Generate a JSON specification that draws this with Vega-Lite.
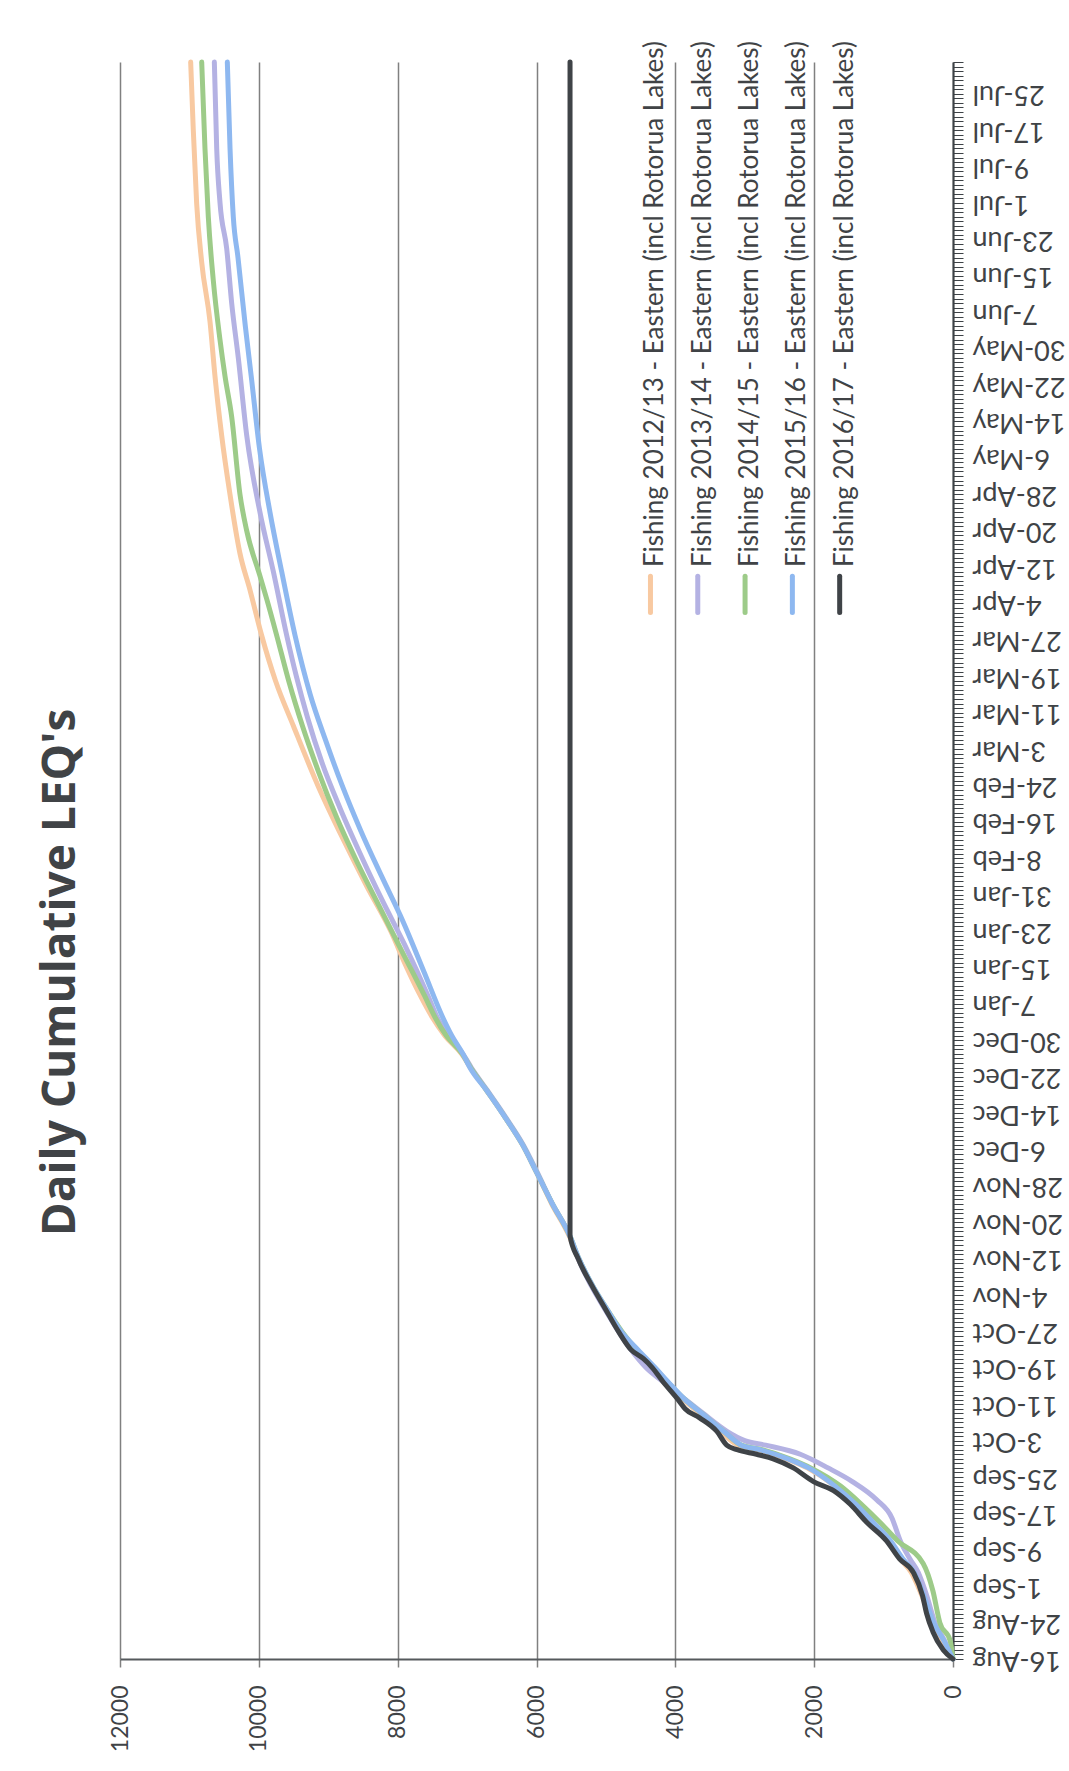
{
  "$schema": "https://vega.github.io/schema/vega-lite/v6.json",
  "width": 833,
  "height": 1597,
  "autosize": {"type": "none"},
  "padding": {"left": 120, "top": 62, "right": 116, "bottom": 112},
  "background": "white",
  "config": {"view": {"stroke": null}, "font": "Lato"},
  "title": {
    "text": "Daily Cumulative LEQ's",
    "orient": "left",
    "anchor": "middle",
    "font": "Open Sans",
    "fontSize": 46,
    "fontWeight": "bold",
    "color": "#404346",
    "offset": 24,
    "dx": -112
  },
  "resolve": {"scale": {"x": "independent"}},
  "layer": [
    {
      "data": {
        "values": [
          {"s": "2012/13", "d": "2015-08-16", "v": 0},
          {"s": "2012/13", "d": "2015-08-20", "v": 150},
          {"s": "2012/13", "d": "2015-08-24", "v": 300},
          {"s": "2012/13", "d": "2015-08-30", "v": 450},
          {"s": "2012/13", "d": "2015-09-04", "v": 600},
          {"s": "2012/13", "d": "2015-09-07", "v": 760},
          {"s": "2012/13", "d": "2015-09-11", "v": 930},
          {"s": "2012/13", "d": "2015-09-15", "v": 1150},
          {"s": "2012/13", "d": "2015-09-19", "v": 1400},
          {"s": "2012/13", "d": "2015-09-23", "v": 1700},
          {"s": "2012/13", "d": "2015-09-27", "v": 2100},
          {"s": "2012/13", "d": "2015-09-29", "v": 2400},
          {"s": "2012/13", "d": "2015-10-01", "v": 2800},
          {"s": "2012/13", "d": "2015-10-02", "v": 3100},
          {"s": "2012/13", "d": "2015-10-05", "v": 3350},
          {"s": "2012/13", "d": "2015-10-09", "v": 3650},
          {"s": "2012/13", "d": "2015-10-12", "v": 3880},
          {"s": "2012/13", "d": "2015-10-16", "v": 4120},
          {"s": "2012/13", "d": "2015-10-19", "v": 4300},
          {"s": "2012/13", "d": "2015-10-23", "v": 4580},
          {"s": "2012/13", "d": "2015-10-27", "v": 4780},
          {"s": "2012/13", "d": "2015-11-01", "v": 5000},
          {"s": "2012/13", "d": "2015-11-06", "v": 5200},
          {"s": "2012/13", "d": "2015-11-12", "v": 5400},
          {"s": "2012/13", "d": "2015-11-17", "v": 5530},
          {"s": "2012/13", "d": "2015-11-24", "v": 5780},
          {"s": "2012/13", "d": "2015-12-01", "v": 6000},
          {"s": "2012/13", "d": "2015-12-07", "v": 6200},
          {"s": "2012/13", "d": "2015-12-13", "v": 6450},
          {"s": "2012/13", "d": "2015-12-19", "v": 6720},
          {"s": "2012/13", "d": "2015-12-24", "v": 6950},
          {"s": "2012/13", "d": "2015-12-27", "v": 7080},
          {"s": "2012/13", "d": "2015-12-31", "v": 7320},
          {"s": "2012/13", "d": "2016-01-04", "v": 7500},
          {"s": "2012/13", "d": "2016-01-09", "v": 7680},
          {"s": "2012/13", "d": "2016-01-15", "v": 7870},
          {"s": "2012/13", "d": "2016-01-23", "v": 8100},
          {"s": "2012/13", "d": "2016-02-02", "v": 8450},
          {"s": "2012/13", "d": "2016-02-12", "v": 8780},
          {"s": "2012/13", "d": "2016-02-24", "v": 9150},
          {"s": "2012/13", "d": "2016-03-08", "v": 9500},
          {"s": "2012/13", "d": "2016-03-18", "v": 9760},
          {"s": "2012/13", "d": "2016-03-28", "v": 9960},
          {"s": "2012/13", "d": "2016-04-07", "v": 10128},
          {"s": "2012/13", "d": "2016-04-15", "v": 10272},
          {"s": "2012/13", "d": "2016-04-28", "v": 10416},
          {"s": "2012/13", "d": "2016-05-11", "v": 10536},
          {"s": "2012/13", "d": "2016-05-24", "v": 10632},
          {"s": "2012/13", "d": "2016-06-05", "v": 10704},
          {"s": "2012/13", "d": "2016-06-18", "v": 10823},
          {"s": "2012/13", "d": "2016-07-01", "v": 10896},
          {"s": "2012/13", "d": "2016-07-17", "v": 10944},
          {"s": "2012/13", "d": "2016-08-01", "v": 10982},

          {"s": "2013/14", "d": "2015-08-16", "v": 0},
          {"s": "2013/14", "d": "2015-08-20", "v": 120},
          {"s": "2013/14", "d": "2015-08-24", "v": 260},
          {"s": "2013/14", "d": "2015-08-30", "v": 380},
          {"s": "2013/14", "d": "2015-09-04", "v": 500},
          {"s": "2013/14", "d": "2015-09-07", "v": 620},
          {"s": "2013/14", "d": "2015-09-11", "v": 760},
          {"s": "2013/14", "d": "2015-09-16", "v": 880},
          {"s": "2013/14", "d": "2015-09-20", "v": 1100},
          {"s": "2013/14", "d": "2015-09-24", "v": 1450},
          {"s": "2013/14", "d": "2015-09-27", "v": 1800},
          {"s": "2013/14", "d": "2015-09-30", "v": 2200},
          {"s": "2013/14", "d": "2015-10-02", "v": 2700},
          {"s": "2013/14", "d": "2015-10-03", "v": 3000},
          {"s": "2013/14", "d": "2015-10-05", "v": 3250},
          {"s": "2013/14", "d": "2015-10-09", "v": 3600},
          {"s": "2013/14", "d": "2015-10-12", "v": 3850},
          {"s": "2013/14", "d": "2015-10-16", "v": 4180},
          {"s": "2013/14", "d": "2015-10-19", "v": 4420},
          {"s": "2013/14", "d": "2015-10-23", "v": 4640},
          {"s": "2013/14", "d": "2015-10-27", "v": 4820},
          {"s": "2013/14", "d": "2015-11-01", "v": 5020},
          {"s": "2013/14", "d": "2015-11-06", "v": 5210},
          {"s": "2013/14", "d": "2015-11-12", "v": 5400},
          {"s": "2013/14", "d": "2015-11-17", "v": 5520},
          {"s": "2013/14", "d": "2015-11-24", "v": 5770},
          {"s": "2013/14", "d": "2015-12-01", "v": 5990},
          {"s": "2013/14", "d": "2015-12-07", "v": 6190},
          {"s": "2013/14", "d": "2015-12-13", "v": 6440},
          {"s": "2013/14", "d": "2015-12-19", "v": 6710},
          {"s": "2013/14", "d": "2015-12-24", "v": 6940},
          {"s": "2013/14", "d": "2015-12-27", "v": 7060},
          {"s": "2013/14", "d": "2015-12-31", "v": 7270},
          {"s": "2013/14", "d": "2016-01-04", "v": 7430},
          {"s": "2013/14", "d": "2016-01-09", "v": 7570},
          {"s": "2013/14", "d": "2016-01-20", "v": 7900},
          {"s": "2013/14", "d": "2016-01-30", "v": 8230},
          {"s": "2013/14", "d": "2016-02-09", "v": 8540},
          {"s": "2013/14", "d": "2016-02-19", "v": 8830},
          {"s": "2013/14", "d": "2016-02-29", "v": 9090},
          {"s": "2013/14", "d": "2016-03-10", "v": 9300},
          {"s": "2013/14", "d": "2016-03-19", "v": 9460},
          {"s": "2013/14", "d": "2016-03-28", "v": 9599},
          {"s": "2013/14", "d": "2016-04-11", "v": 9791},
          {"s": "2013/14", "d": "2016-04-24", "v": 9983},
          {"s": "2013/14", "d": "2016-05-11", "v": 10175},
          {"s": "2013/14", "d": "2016-05-28", "v": 10296},
          {"s": "2013/14", "d": "2016-06-09", "v": 10391},
          {"s": "2013/14", "d": "2016-06-21", "v": 10463},
          {"s": "2013/14", "d": "2016-07-01", "v": 10559},
          {"s": "2013/14", "d": "2016-07-13", "v": 10607},
          {"s": "2013/14", "d": "2016-08-01", "v": 10641},

          {"s": "2014/15", "d": "2015-08-16", "v": 0},
          {"s": "2014/15", "d": "2015-08-20", "v": 40},
          {"s": "2014/15", "d": "2015-08-24", "v": 190},
          {"s": "2014/15", "d": "2015-08-31", "v": 290},
          {"s": "2014/15", "d": "2015-09-06", "v": 430},
          {"s": "2014/15", "d": "2015-09-11", "v": 800},
          {"s": "2014/15", "d": "2015-09-15", "v": 1050},
          {"s": "2014/15", "d": "2015-09-19", "v": 1320},
          {"s": "2014/15", "d": "2015-09-23", "v": 1620},
          {"s": "2014/15", "d": "2015-09-27", "v": 2050},
          {"s": "2014/15", "d": "2015-09-29", "v": 2350},
          {"s": "2014/15", "d": "2015-10-01", "v": 2750},
          {"s": "2014/15", "d": "2015-10-02", "v": 3050},
          {"s": "2014/15", "d": "2015-10-05", "v": 3300},
          {"s": "2014/15", "d": "2015-10-09", "v": 3620},
          {"s": "2014/15", "d": "2015-10-12", "v": 3860},
          {"s": "2014/15", "d": "2015-10-16", "v": 4120},
          {"s": "2014/15", "d": "2015-10-19", "v": 4300},
          {"s": "2014/15", "d": "2015-10-23", "v": 4560},
          {"s": "2014/15", "d": "2015-10-27", "v": 4770},
          {"s": "2014/15", "d": "2015-11-01", "v": 4990},
          {"s": "2014/15", "d": "2015-11-06", "v": 5190},
          {"s": "2014/15", "d": "2015-11-12", "v": 5390},
          {"s": "2014/15", "d": "2015-11-17", "v": 5520},
          {"s": "2014/15", "d": "2015-11-24", "v": 5770},
          {"s": "2014/15", "d": "2015-12-01", "v": 6000},
          {"s": "2014/15", "d": "2015-12-07", "v": 6200},
          {"s": "2014/15", "d": "2015-12-13", "v": 6450},
          {"s": "2014/15", "d": "2015-12-19", "v": 6720},
          {"s": "2014/15", "d": "2015-12-24", "v": 6950},
          {"s": "2014/15", "d": "2015-12-27", "v": 7070},
          {"s": "2014/15", "d": "2015-12-31", "v": 7300},
          {"s": "2014/15", "d": "2016-01-04", "v": 7460},
          {"s": "2014/15", "d": "2016-01-09", "v": 7620},
          {"s": "2014/15", "d": "2016-01-18", "v": 7920},
          {"s": "2014/15", "d": "2016-01-28", "v": 8250},
          {"s": "2014/15", "d": "2016-02-07", "v": 8580},
          {"s": "2014/15", "d": "2016-02-17", "v": 8880},
          {"s": "2014/15", "d": "2016-02-27", "v": 9140},
          {"s": "2014/15", "d": "2016-03-08", "v": 9370},
          {"s": "2014/15", "d": "2016-03-18", "v": 9570},
          {"s": "2014/15", "d": "2016-03-28", "v": 9743},
          {"s": "2014/15", "d": "2016-04-05", "v": 9887},
          {"s": "2014/15", "d": "2016-04-10", "v": 9983},
          {"s": "2014/15", "d": "2016-04-20", "v": 10175},
          {"s": "2014/15", "d": "2016-04-28", "v": 10272},
          {"s": "2014/15", "d": "2016-05-15", "v": 10391},
          {"s": "2014/15", "d": "2016-05-24", "v": 10488},
          {"s": "2014/15", "d": "2016-06-01", "v": 10560},
          {"s": "2014/15", "d": "2016-06-14", "v": 10656},
          {"s": "2014/15", "d": "2016-06-28", "v": 10728},
          {"s": "2014/15", "d": "2016-07-13", "v": 10776},
          {"s": "2014/15", "d": "2016-08-01", "v": 10823},

          {"s": "2015/16", "d": "2015-08-16", "v": 0},
          {"s": "2015/16", "d": "2015-08-20", "v": 130},
          {"s": "2015/16", "d": "2015-08-24", "v": 280},
          {"s": "2015/16", "d": "2015-08-30", "v": 420},
          {"s": "2015/16", "d": "2015-09-04", "v": 560},
          {"s": "2015/16", "d": "2015-09-07", "v": 720},
          {"s": "2015/16", "d": "2015-09-11", "v": 900},
          {"s": "2015/16", "d": "2015-09-15", "v": 1150},
          {"s": "2015/16", "d": "2015-09-19", "v": 1400},
          {"s": "2015/16", "d": "2015-09-23", "v": 1700},
          {"s": "2015/16", "d": "2015-09-27", "v": 2080},
          {"s": "2015/16", "d": "2015-09-29", "v": 2380},
          {"s": "2015/16", "d": "2015-10-01", "v": 2780},
          {"s": "2015/16", "d": "2015-10-02", "v": 3050},
          {"s": "2015/16", "d": "2015-10-05", "v": 3300},
          {"s": "2015/16", "d": "2015-10-09", "v": 3620},
          {"s": "2015/16", "d": "2015-10-12", "v": 3860},
          {"s": "2015/16", "d": "2015-10-16", "v": 4110},
          {"s": "2015/16", "d": "2015-10-19", "v": 4290},
          {"s": "2015/16", "d": "2015-10-23", "v": 4540},
          {"s": "2015/16", "d": "2015-10-27", "v": 4780},
          {"s": "2015/16", "d": "2015-11-01", "v": 4990},
          {"s": "2015/16", "d": "2015-11-06", "v": 5190},
          {"s": "2015/16", "d": "2015-11-12", "v": 5390},
          {"s": "2015/16", "d": "2015-11-17", "v": 5520},
          {"s": "2015/16", "d": "2015-11-24", "v": 5770},
          {"s": "2015/16", "d": "2015-12-01", "v": 6000},
          {"s": "2015/16", "d": "2015-12-07", "v": 6200},
          {"s": "2015/16", "d": "2015-12-13", "v": 6450},
          {"s": "2015/16", "d": "2015-12-19", "v": 6720},
          {"s": "2015/16", "d": "2015-12-24", "v": 6960},
          {"s": "2015/16", "d": "2015-12-27", "v": 7060},
          {"s": "2015/16", "d": "2015-12-31", "v": 7220},
          {"s": "2015/16", "d": "2016-01-04", "v": 7350},
          {"s": "2015/16", "d": "2016-01-14", "v": 7620},
          {"s": "2015/16", "d": "2016-01-25", "v": 7920},
          {"s": "2015/16", "d": "2016-02-04", "v": 8230},
          {"s": "2015/16", "d": "2016-02-14", "v": 8530},
          {"s": "2015/16", "d": "2016-02-24", "v": 8800},
          {"s": "2015/16", "d": "2016-03-05", "v": 9040},
          {"s": "2015/16", "d": "2016-03-15", "v": 9260},
          {"s": "2015/16", "d": "2016-03-28", "v": 9479},
          {"s": "2015/16", "d": "2016-04-11", "v": 9671},
          {"s": "2015/16", "d": "2016-04-24", "v": 9839},
          {"s": "2015/16", "d": "2016-05-08", "v": 9990},
          {"s": "2015/16", "d": "2016-05-24", "v": 10110},
          {"s": "2015/16", "d": "2016-06-04", "v": 10195},
          {"s": "2015/16", "d": "2016-06-19", "v": 10300},
          {"s": "2015/16", "d": "2016-06-28", "v": 10368},
          {"s": "2015/16", "d": "2016-07-13", "v": 10415},
          {"s": "2015/16", "d": "2016-08-01", "v": 10454},

          {"s": "2016/17", "d": "2015-08-16", "v": 0},
          {"s": "2016/17", "d": "2015-08-18", "v": 140},
          {"s": "2016/17", "d": "2015-08-22", "v": 290},
          {"s": "2016/17", "d": "2015-08-26", "v": 380},
          {"s": "2016/17", "d": "2015-08-30", "v": 440},
          {"s": "2016/17", "d": "2015-09-04", "v": 570},
          {"s": "2016/17", "d": "2015-09-07", "v": 770},
          {"s": "2016/17", "d": "2015-09-11", "v": 960},
          {"s": "2016/17", "d": "2015-09-15", "v": 1240},
          {"s": "2016/17", "d": "2015-09-19", "v": 1480},
          {"s": "2016/17", "d": "2015-09-22", "v": 1720},
          {"s": "2016/17", "d": "2015-09-24", "v": 2010},
          {"s": "2016/17", "d": "2015-09-27", "v": 2300},
          {"s": "2016/17", "d": "2015-09-29", "v": 2590},
          {"s": "2016/17", "d": "2015-09-30", "v": 2830},
          {"s": "2016/17", "d": "2015-10-01", "v": 3110},
          {"s": "2016/17", "d": "2015-10-02", "v": 3260},
          {"s": "2016/17", "d": "2015-10-05", "v": 3400},
          {"s": "2016/17", "d": "2015-10-08", "v": 3650},
          {"s": "2016/17", "d": "2015-10-10", "v": 3860},
          {"s": "2016/17", "d": "2015-10-12", "v": 3960},
          {"s": "2016/17", "d": "2015-10-16", "v": 4180},
          {"s": "2016/17", "d": "2015-10-19", "v": 4330},
          {"s": "2016/17", "d": "2015-10-21", "v": 4460},
          {"s": "2016/17", "d": "2015-10-23", "v": 4640},
          {"s": "2016/17", "d": "2015-10-27", "v": 4820},
          {"s": "2016/17", "d": "2015-11-01", "v": 5010},
          {"s": "2016/17", "d": "2015-11-06", "v": 5200},
          {"s": "2016/17", "d": "2015-11-12", "v": 5400},
          {"s": "2016/17", "d": "2015-11-17", "v": 5517},
          {"s": "2016/17", "d": "2016-08-01", "v": 5517}
        ],
        "format": {"parse": {"d": "utc:'%Y-%m-%d'"}}
      },
      "mark": {"type": "line", "interpolate": "monotone", "orient": "horizontal", "strokeCap": "round", "strokeJoin": "round"},
      "encoding": {
        "y": {
          "field": "d",
          "type": "temporal",
          "scale": {
            "type": "utc",
            "domain": [
              {"year": 2015, "month": 8, "date": 16, "utc": true},
              {"year": 2016, "month": 8, "date": 1, "utc": true}
            ]
          },
          "axis": {
            "orient": "right",
            "title": null,
            "grid": false,
            "tickCount": {"interval": "day", "step": 1},
            "labelExpr": "(round((datum.value - utc(2015, 7, 16)) / 86400000) % 8 == 0) ? utcFormat(datum.value, '%-d-%b') : ''",
            "labelAngle": 180,
            "labelAlign": "right",
            "labelBaseline": "middle",
            "labelOverlap": false,
            "labelFlush": false,
            "labelBound": false,
            "labelPadding": 9,
            "labelFont": "Lato",
            "labelFontSize": 27,
            "labelColor": "#404346",
            "tickSize": 10,
            "tickWidth": 1,
            "tickColor": "#3d4247",
            "domainColor": "#3d4247",
            "domainWidth": 2
          }
        },
        "x": {
          "field": "v",
          "type": "quantitative",
          "scale": {"domain": [0, 12000], "reverse": true, "nice": false},
          "axis": {
            "orient": "bottom",
            "title": null,
            "format": "d",
            "values": [0, 2000, 4000, 6000, 8000, 10000, 12000],
            "grid": true,
            "gridColor": "#808080",
            "gridWidth": 1.5,
            "labelAngle": -90,
            "labelAlign": "right",
            "labelBaseline": "middle",
            "labelFlush": false,
            "labelPadding": 18,
            "labelFont": "Lato",
            "labelFontSize": 23,
            "labelColor": "#404346",
            "tickSize": 8,
            "tickColor": "#808080",
            "tickWidth": 1.5,
            "domainColor": "#55595c",
            "domainWidth": 2
          }
        },
        "color": {
          "field": "s",
          "type": "nominal",
          "scale": {
            "domain": ["2012/13", "2013/14", "2014/15", "2015/16", "2016/17"],
            "range": ["#f8c9a1", "#b4b2e3", "#9dcb89", "#8eb8f0", "#3f4347"]
          },
          "legend": null
        },
        "strokeWidth": {
          "field": "s",
          "type": "nominal",
          "scale": {
            "domain": ["2012/13", "2013/14", "2014/15", "2015/16", "2016/17"],
            "range": [5, 5, 5, 5, 8]
          },
          "legend": null
        },
        "order": {"field": "d", "type": "temporal"}
      }
    },
    {
      "data": {
        "values": [
          {"s": "2012/13", "k": 0, "label": "Fishing 2012/13 - Eastern (incl Rotorua Lakes)"},
          {"s": "2013/14", "k": 1, "label": "Fishing 2013/14 - Eastern (incl Rotorua Lakes)"},
          {"s": "2014/15", "k": 2, "label": "Fishing 2014/15 - Eastern (incl Rotorua Lakes)"},
          {"s": "2015/16", "k": 3, "label": "Fishing 2015/16 - Eastern (incl Rotorua Lakes)"},
          {"s": "2016/17", "k": 4, "label": "Fishing 2016/17 - Eastern (incl Rotorua Lakes)"}
        ]
      },
      "encoding": {
        "x": {
          "field": "k",
          "type": "quantitative",
          "scale": {"domain": [-11.32, 6.29], "nice": false, "zero": false},
          "axis": null
        }
      },
      "layer": [
        {
          "mark": {"type": "rule", "xOffset": -5, "strokeCap": "round"},
          "encoding": {
            "y": {"datum": {"year": 2016, "month": 4, "date": 2, "utc": true}, "type": "temporal"},
            "y2": {"datum": {"year": 2016, "month": 4, "date": 10, "utc": true}},
            "color": {"field": "s", "type": "nominal", "legend": null},
            "strokeWidth": {"field": "s", "type": "nominal", "legend": null}
          }
        },
        {
          "mark": {"type": "text", "angle": -90, "align": "left", "baseline": "middle", "font": "Lato", "fontSize": 26, "color": "#404346"},
          "encoding": {
            "y": {"datum": {"year": 2016, "month": 4, "date": 12, "utc": true}, "type": "temporal"},
            "text": {"field": "label"}
          }
        }
      ]
    }
  ]
}
